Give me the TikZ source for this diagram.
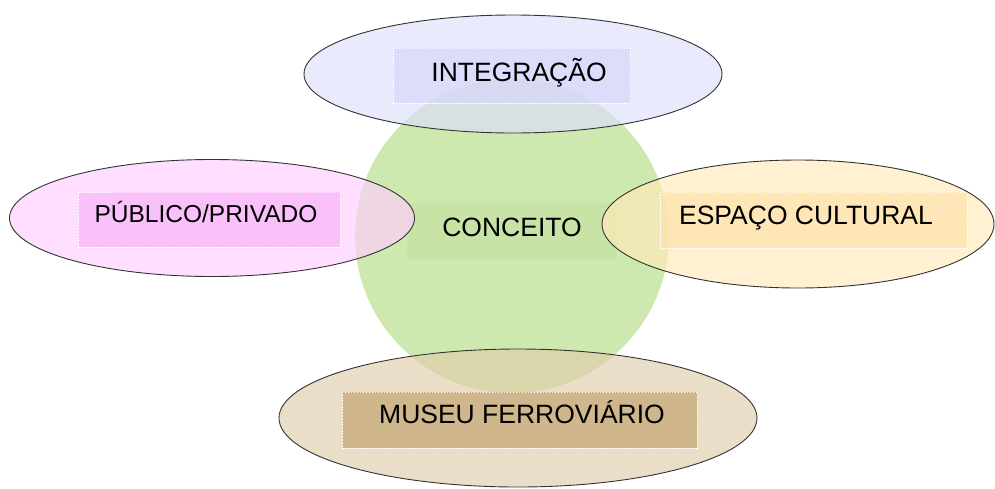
\documentclass[tikz,border=0pt]{standalone}
\usepackage{fontspec}
\setmainfont{Liberation Sans}
\usetikzlibrary{shapes.geometric}
\definecolor{cgreen}{RGB}{190,225,150}
\definecolor{cblue}{RGB}{222,222,252}
\definecolor{cbluebox}{RGB}{215,215,250}
\definecolor{cpink}{RGB}{255,205,255}
\definecolor{cpinkbox}{RGB}{248,180,248}
\definecolor{cyel}{RGB}{255,234,185}
\definecolor{cyelbox}{RGB}{255,226,170}
\definecolor{ctan}{RGB}{225,205,170}
\definecolor{ctanbox}{RGB}{196,165,115}
\definecolor{cgreenbox}{RGB}{195,225,160}
\tikzset{
  oval/.style={ellipse, draw=black!80, line width=0.9pt, fill opacity=0.65, inner sep=0pt},
  tbox/.style={rectangle, draw=white, line width=0.8pt, dash pattern=on 1.5pt off 1.5pt, inner sep=0pt, fill opacity=0.7},
  lbl/.style={anchor=base, inner sep=0pt, font=\fontsize{26.5}{30}\selectfont, text=black},
}
\begin{document}
\begin{tikzpicture}[x=1pt,y=-1pt]
\useasboundingbox (0,0) rectangle (995,488);
% central circle
\fill[cgreen, opacity=0.75] (512,236) circle (157);
\node[tbox, draw=none, fill=cgreenbox, fill opacity=0.6, minimum width=210, minimum height=57] (cbox) at (512,231) {};
% ellipses
\node[oval, fill=cblue, minimum width=418, minimum height=118] (top) at (513,74) {};
\node[oval, fill=cpink, minimum width=405, minimum height=117] (left) at (212,218) {};
\node[oval, fill=cyel, minimum width=392, minimum height=128] (right) at (798,224) {};
\node[oval, fill=ctan, minimum width=478, minimum height=138] (bottom) at (518,418) {};
% text boxes
\node[tbox, fill=cbluebox, minimum width=237, minimum height=55] (tbtop) at (511.5,75.5) {};
\node[tbox, fill=cpinkbox, minimum width=262, minimum height=55] (tbleft) at (209,219.5) {};
\node[tbox, fill=cyelbox, minimum width=307, minimum height=56] (tbright) at (813.5,220) {};
\node[tbox, fill=ctanbox, minimum width=355, minimum height=56] (tbbottom) at (519.5,420) {};
% labels
\node[lbl] (ltop) at (519,81) {INTEGRAÇÃO};
\node[lbl, font=\fontsize{24.5}{28}\selectfont] (lleft) at (206,222) {PÚBLICO/PRIVADO};
\node[lbl] (lright) at (806,224) {ESPAÇO CULTURAL};
\node[lbl] (lbottom) at (522,423) {MUSEU FERROVIÁRIO};
\node[lbl] (lcenter) at (512,236) {CONCEITO};
\end{tikzpicture}
\end{document}
